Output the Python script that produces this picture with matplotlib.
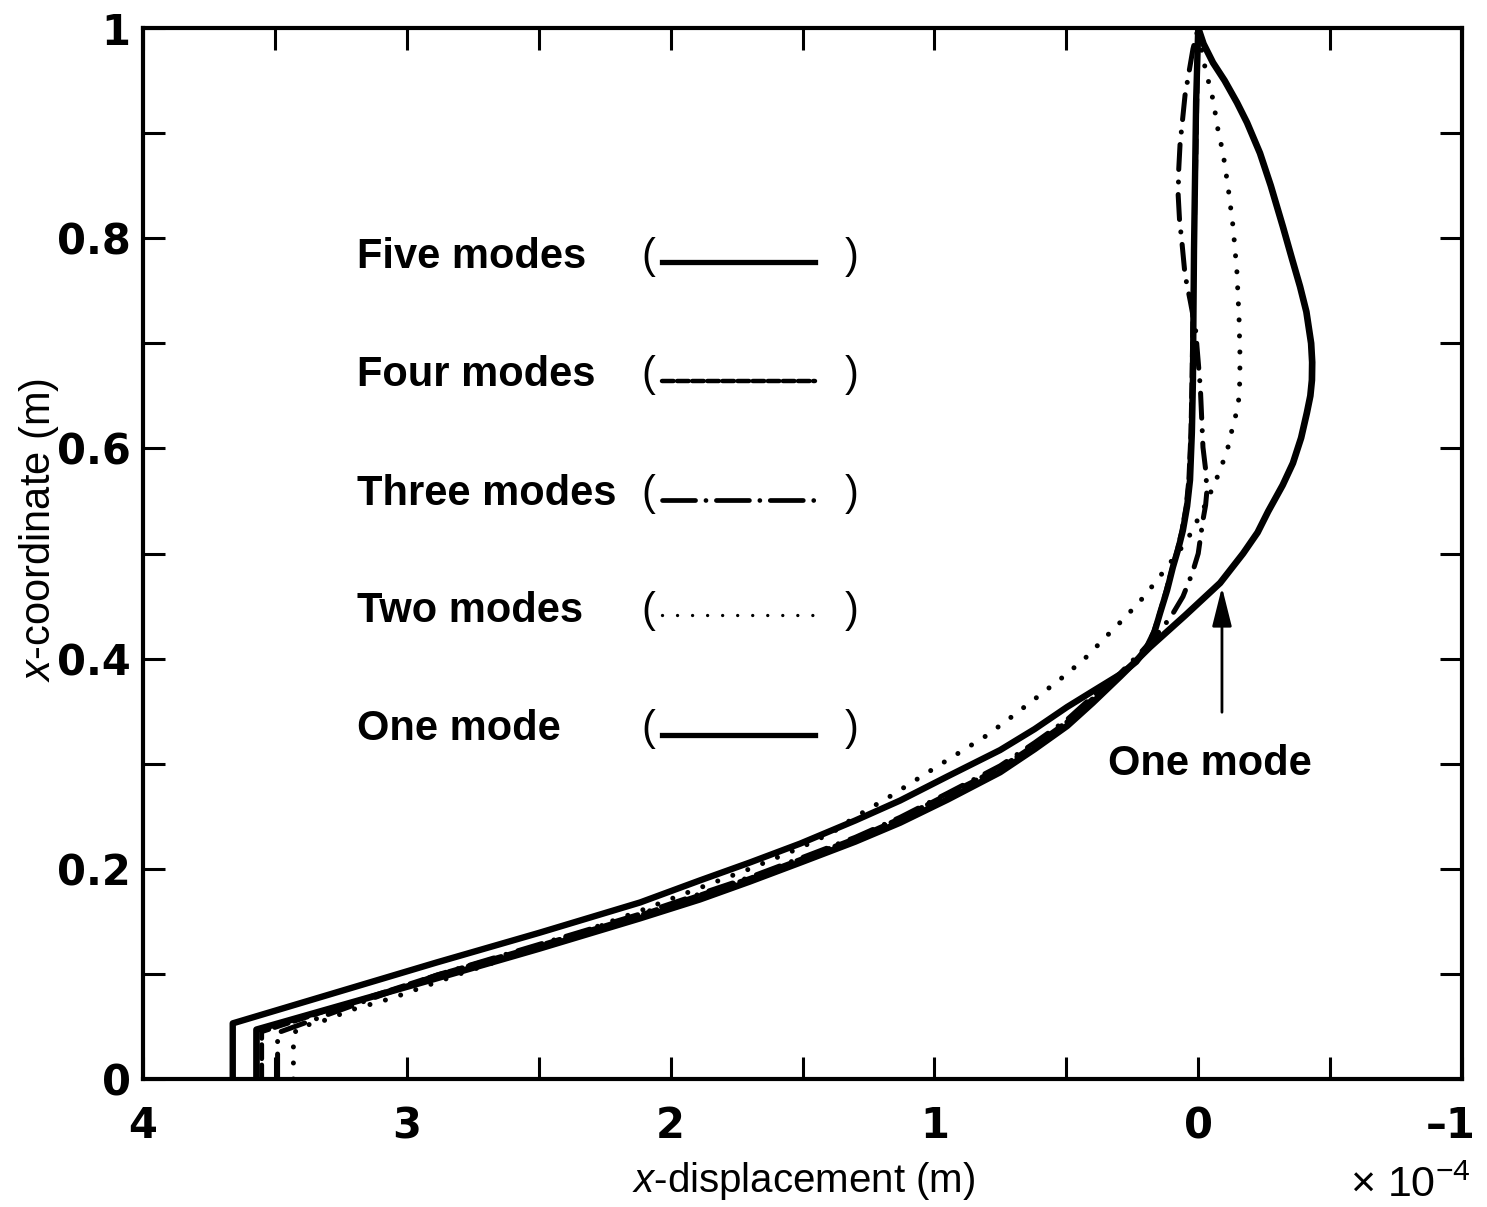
# -*- coding: utf-8 -*-

import matplotlib
matplotlib.use("Agg")
import matplotlib.pyplot as plt
import matplotlib.transforms as mtransforms
from matplotlib.ticker import MultipleLocator

plt.rcParams['font.family'] = ['Liberation Sans', 'DejaVu Sans']
plt.rcParams['mathtext.fontset'] = 'custom'
plt.rcParams['mathtext.rm'] = 'Liberation Sans'
plt.rcParams['mathtext.it'] = 'Liberation Sans:italic'

################################################################################
#
# Data (displacement in units of 1e-4 m)
#
################################################################################

five_x = [3.66, 3.66, 2.886, 2.50, 2.116, 1.889, 1.70, 1.509, 1.30, 1.130,
          0.95, 0.751, 0.62, 0.497, 0.40, 0.296, 0.235, 0.194, 0.165, 0.145,
          0.118, 0.096, 0.075, 0.058, 0.042, 0.031, 0.024, 0.020, 0.018,
          0.016, 0.012, 0.008, 0.0]
five_y = [0.0, 0.053, 0.111, 0.139, 0.168, 0.189, 0.206, 0.224, 0.246, 0.265,
          0.288, 0.313, 0.333, 0.354, 0.369, 0.385, 0.397, 0.411, 0.426, 0.443,
          0.465, 0.487, 0.505, 0.522, 0.545, 0.570, 0.615, 0.665, 0.73,
          0.789, 0.86, 0.930, 1.0]

four_x = [3.55, 3.55, 2.886, 2.50, 2.116, 1.70, 1.509, 1.30, 1.130, 0.95,
          0.751, 0.62, 0.497, 0.40, 0.296, 0.235, 0.194, 0.170, 0.150, 0.125,
          0.100, 0.080, 0.062, 0.046, 0.036, 0.028, 0.024, 0.020, 0.016,
          0.010, 0.005, 0.0]
four_y = [0.0, 0.045, 0.099, 0.127, 0.156, 0.191, 0.209, 0.229, 0.248, 0.271,
          0.296, 0.318, 0.340, 0.362, 0.384, 0.398, 0.411, 0.425, 0.440, 0.462,
          0.485, 0.503, 0.522, 0.545, 0.570, 0.615, 0.665, 0.73, 0.789,
          0.86, 0.930, 1.0]

three_x = [3.49, 3.49, 2.886, 2.50, 2.116, 1.70, 1.509, 1.30, 1.130, 0.95,
           0.751, 0.62, 0.497, 0.40, 0.296, 0.21, 0.133, 0.096, 0.058, 0.023,
           0.0, -0.018, -0.028, -0.033, -0.028, -0.018, -0.008, 0.010, 0.030,
           0.050, 0.061, 0.071, 0.076, 0.074, 0.069, 0.050, 0.020, 0.0]
three_y = [0.0, 0.044, 0.099, 0.128, 0.157, 0.192, 0.210, 0.230, 0.249, 0.272,
           0.298, 0.320, 0.342, 0.364, 0.386, 0.408, 0.430, 0.443, 0.459,
           0.481, 0.500, 0.532, 0.546, 0.560, 0.580, 0.601, 0.658, 0.713,
           0.740, 0.765, 0.794, 0.818, 0.841, 0.865, 0.889, 0.936, 0.980, 1.0]

two_x = [3.43, 3.43, 3.412, 3.31, 3.208, 3.056, 2.80, 2.50, 2.116, 1.889,
         1.70, 1.509, 1.384, 1.309, 1.168, 0.986, 0.801, 0.70, 0.592, 0.50,
         0.422, 0.353, 0.278, 0.209, 0.171, 0.137, 0.107, 0.070, 0.031,
         -0.026, -0.071, -0.109, -0.132, -0.146, -0.155, -0.158, -0.158,
         -0.155, -0.147, -0.132, -0.113, -0.094, -0.075, -0.056, -0.037,
         -0.018, 0.0]
two_y = [0.0, 0.042, 0.049, 0.056, 0.066, 0.077, 0.100, 0.125, 0.160, 0.182,
         0.200, 0.220, 0.235, 0.248, 0.269, 0.298, 0.327, 0.346, 0.367, 0.385,
         0.402, 0.420, 0.439, 0.458, 0.470, 0.481, 0.491, 0.503, 0.518,
         0.546, 0.572, 0.597, 0.622, 0.635, 0.649, 0.668, 0.691, 0.722,
         0.767, 0.811, 0.849, 0.881, 0.903, 0.932, 0.951, 0.971, 1.0]

one_x = [3.57, 3.57, 2.886, 2.50, 2.116, 1.889, 1.70, 1.509, 1.30, 1.130,
         0.95, 0.751, 0.62, 0.497, 0.40, 0.296, 0.183, 0.050, -0.083, -0.170,
         -0.225, -0.265, -0.32, -0.359, -0.39, -0.412, -0.425, -0.431, -0.432,
         -0.428, -0.41, -0.386, -0.356, -0.321, -0.275, -0.234, -0.185,
         -0.147, -0.10, -0.056, -0.02, 0.0]
one_y = [0.0, 0.047, 0.096, 0.124, 0.153, 0.171, 0.188, 0.206, 0.226, 0.244,
         0.266, 0.292, 0.314, 0.336, 0.358, 0.383, 0.411, 0.441, 0.472, 0.500,
         0.520, 0.540, 0.565, 0.586, 0.610, 0.634, 0.650, 0.665, 0.682,
         0.700, 0.730, 0.754, 0.780, 0.811, 0.850, 0.881, 0.910, 0.929,
         0.950, 0.967, 0.985, 1.0]

labels = ["Five modes", "Four modes", "Three modes", "Two modes", "One mode"]
xtick_vals = [4, 3, 2, 1, 0, -1]
xtick_labels = ["4", "3", "2", "1", "0", "\u20131"]
ytick_vals = [0, 0.2, 0.4, 0.6, 0.8, 1.0]
ytick_labels = ["0", "0.2", "0.4", "0.6", "0.8", "1"]

dot_style = (0, (0.01, 3.2))
dashdot_style = (0, (5, 2.5, 0.01, 2.5))
dash_style = (0, (3, 1.3))

fig = plt.figure(figsize=(14.87, 12.07), dpi=100)
ax = fig.add_axes([0.0962, 0.1060, 0.8870, 0.8708])

ax.plot(two_x, two_y, color="k", lw=3.6, linestyle=dot_style,
        dash_capstyle="round")
ax.plot(three_x, three_y, color="k", lw=3.6, linestyle=dashdot_style,
        dash_capstyle="round")
ax.plot(four_x, four_y, color="k", lw=3.4, linestyle=dash_style,
        dash_capstyle="round")
ax.plot(one_x, one_y, color="k", lw=4.8, solid_joinstyle="round")
ax.plot(five_x, five_y, color="k", lw=4.6, solid_joinstyle="round")

ax.set_xlim(4, -1)
ax.set_ylim(0, 1)

ax.set_xticks(xtick_vals)
ax.set_xticklabels(xtick_labels)
ax.set_yticks(ytick_vals)
ax.set_yticklabels(ytick_labels)
ax.xaxis.set_minor_locator(MultipleLocator(0.5))
ax.yaxis.set_minor_locator(MultipleLocator(0.1))

ax.tick_params(which="both", direction="in", top=True, right=True,
               length=16, width=2.2)
ax.tick_params(axis="x", which="major", pad=19)
ax.tick_params(axis="y", which="major", pad=9)
for lab in ax.get_xticklabels() + ax.get_yticklabels():
    lab.set_fontfamily("DejaVu Sans")
    lab.set_fontweight("bold")
    lab.set_fontsize(30)
for sp in ax.spines.values():
    sp.set_linewidth(3)

# nudge the last x label so it stays inside the figure
last = ax.get_xticklabels()[-1]
last.set_transform(last.get_transform() +
                   mtransforms.ScaledTranslation(-8 / 72.0, 0, fig.dpi_scale_trans))

ax.set_xlabel(r"$x$-displacement (m)", fontsize=29)
ax.xaxis.set_label_coords(0.501, -0.077)
ax.set_ylabel(r"$x$-coordinate (m)", fontsize=30)
ax.yaxis.set_label_coords(-0.062, 0.522)

fig.text(0.908, 0.0083, "\u00d7 10$^{-4}$", fontsize=31, ha="left",
         va="baseline")

#
# hand-made legend inside the axes
#
text_base = [0.7716, 0.6594, 0.5461, 0.4348, 0.3226]
line_y = [0.7774, 0.6641, 0.5509, 0.4415, 0.3273]
sample_styles = [("-", 3.8), ((0, (2.6, 0.8)), 3.2), ((0, (7, 2.2, 0.01, 2.2)), 3.4),
                 ((0, (0.01, 4.5)), 2.4), ("-", 3.8)]
for i in range(5):
    ax.text(0.162, text_base[i], labels[i], transform=ax.transAxes,
            fontsize=30, fontweight="bold", ha="left", va="baseline")
    ax.text(0.383, text_base[i], "(", transform=ax.transAxes,
            fontsize=30, ha="center", va="baseline")
    ax.text(0.537, text_base[i], ")", transform=ax.transAxes,
            fontsize=30, ha="center", va="baseline")
    ls, lw = sample_styles[i]
    ax.plot([0.3935, 0.5095], [line_y[i], line_y[i]], transform=ax.transAxes,
            color="k", lw=lw, linestyle=ls, dash_capstyle="round")

ax.annotate("", xy=(-0.090, 0.468), xytext=(-0.090, 0.349),
            arrowprops=dict(arrowstyle="-|>,head_length=1.2,head_width=0.3",
                            mutation_scale=20, color="k", lw=2,
                            shrinkA=0, shrinkB=0))
ax.text(0.342, 0.289, "One mode", fontsize=30, fontweight="bold",
        ha="left", va="baseline")

fig.savefig("out.png", dpi=100)
